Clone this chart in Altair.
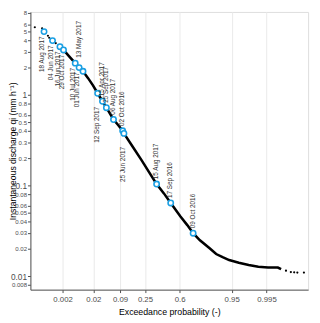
import altair as alt
import pandas as pd
from statistics import NormalDist

# ---- data ----
curve_p = [0.0016, 0.00217, 0.00351, 0.00555, 0.00744, 0.00986, 0.01388, 0.01925,
           0.02618, 0.0351, 0.0440, 0.0648, 0.0818, 0.1019, 0.1080, 0.1519, 0.2217,
           0.3061, 0.3582, 0.4332, 0.5056, 0.6082, 0.6762, 0.7302, 0.7868, 0.8542,
           0.8905, 0.9196, 0.9425, 0.9668, 0.9821, 0.99078, 0.99554, 0.99801, 0.99849]
curve_q = [3.40, 3.13, 2.64, 2.24, 2.00, 1.82, 1.54, 1.283,
           1.042, 0.851, 0.722, 0.535, 0.465, 0.4016, 0.3759, 0.2783, 0.1905,
           0.1288, 0.1039, 0.0819, 0.0642, 0.0456, 0.0366, 0.0298, 0.0249, 0.0203,
           0.01755, 0.01619, 0.01505, 0.01408, 0.01331, 0.01268, 0.01246, 0.01246, 0.01195]

tail_p = [0.000147, 0.000307, 0.000539, 0.000607, 0.001105,
          0.99902, 0.999374, 0.999543, 0.999663, 0.999826]
tail_q = [5.57, 5.43, 4.49, 4.27, 3.72,
          0.01149, 0.0111, 0.01103, 0.01095, 0.01095]

event_dates = ["18 Aug 2017", "04 Jun 2017", "16 Jun 2017", "29 Oct 2017",
               "10 Jul 2017", "01 Jun 2017", "13 May 2017", "12 Sep 2017",
               "15 Apr 2017", "25 Sep 2017", "06 Aug 2017", "02 Oct 2016",
               "25 Jun 2017", "15 Aug 2017", "17 Sep 2016", "09 Oct 2016"]
event_p = [0.000371, 0.000827, 0.0016, 0.00217, 0.00555, 0.00744, 0.00986, 0.02618,
           0.0351, 0.0440, 0.0648, 0.1019, 0.1080, 0.3582, 0.5056, 0.7302]
event_q = [4.99, 3.97, 3.40, 3.13, 2.24, 2.00, 1.82, 1.042,
           0.851, 0.722, 0.535, 0.4016, 0.3759, 0.1039, 0.0642, 0.0298]
event_side = ["below", "below", "below", "below", "below", "below", "above far", "below far",
              "above", "above", "above", "above", "below far", "above", "above", "above"]

x_tick_probs = [0.002, 0.02, 0.09, 0.25, 0.6, 0.95, 0.995]
y_tick_values = [0.008, 0.01, 0.02, 0.03, 0.04, 0.05, 0.06, 0.08, 0.1, 0.2, 0.3, 0.4,
                 0.5, 0.6, 0.8, 1, 2, 3, 4, 5, 6, 8]

nd = NormalDist()
x_tick_z = [nd.inv_cdf(p) for p in x_tick_probs]

curve = pd.DataFrame({"p": curve_p, "q": curve_q})
tails = pd.DataFrame({"p": tail_p, "q": tail_q})
events = pd.DataFrame({"date": event_dates, "p": event_p, "q": event_q, "side": event_side})

FONT = "Liberation Sans"
BLUE = "#1a9fe3"

x_enc = alt.X(
    "z:Q",
    scale=alt.Scale(domain=[-3.738, 3.688], nice=False, zero=False),
    axis=alt.Axis(
        values=x_tick_z,
        labelExpr="format(cumulativeNormal(datum.value), '~g')",
        grid=True, gridColor="#ebebeb", gridWidth=1.1,
        tickSize=3, tickColor="#4d4d4d", domainColor="#555555",
        labelFontSize=8, labelColor="#4d4d4d", labelBaseline="middle", labelPadding=7,
        labelFont=FONT, titleFont=FONT, titleFontSize=9, titleFontWeight="normal",
        titleColor="#000000", titleBaseline="middle", titleY=22, titleX=142.5,
        titleAlign="center",
    ),
    title="Exceedance probability (-)",
)

y_enc = alt.Y(
    "q:Q",
    scale=alt.Scale(type="log", domain=[0.0071, 8.22], nice=False),
    axis=alt.Axis(
        values=y_tick_values, format="~g", grid=False,
        tickSize=3, tickColor="#4d4d4d", domainColor="#555555",
        labelFontSize={"condition": {"test": "datum.value == 0.01 || datum.value == 0.1 || datum.value == 1",
                                     "value": 8.5}, "value": 6.2},
        labelColor="#4d4d4d", labelPadding=1, labelFont=FONT,
        titleFont=FONT, titleFontSize=8.8, titleFontWeight="normal", titleColor="#000000",
        titleAngle=270, titleAlign="center", titleBaseline="middle",
        titleX=-18.5, titleY=142.5,
    ),
    title="Instantaneous discharge qi (mm h⁻¹)",
)

calc = dict(z="quantileNormal(datum.p)")

line = alt.Chart(curve).transform_calculate(**calc).mark_line(
    color="black", strokeWidth=2.6
).encode(x=x_enc, y=y_enc, order="z:Q")

dots = alt.Chart(tails).transform_calculate(**calc).mark_circle(
    color="black", size=5, opacity=1
).encode(x=x_enc, y=y_enc)

circles = alt.Chart(events).transform_calculate(**calc).mark_point(
    shape="circle", size=30, strokeWidth=1.6, color=BLUE, fill="white", filled=False, opacity=1,
    fillOpacity=1
).encode(x=x_enc, y=y_enc)

def labels(side, align, xo, yo):
    return alt.Chart(events).transform_calculate(**calc).transform_filter(
        alt.datum.side == side
    ).mark_text(
        angle=270, align=align, baseline="middle", fontSize=6.5, font=FONT,
        color="#333333", xOffset=xo, yOffset=yo
    ).encode(x=x_enc, y=y_enc, text="date:N")

chart = alt.layer(
    line, dots, circles,
    labels("below", "right", -2, 5),
    labels("below far", "right", -1, 14),
    labels("above", "left", -0.5, -5),
    labels("above far", "left", -4, -14),
).properties(
    width=285, height=285,
    autosize=alt.AutoSizeParams(type="none"),
    padding={"left": 23, "right": 4, "top": 0, "bottom": 24},
).configure_view(
    stroke="#999999", strokeWidth=1
).configure(font=FONT)

chart.save("out.html", embed_options={"renderer": "svg", "actions": False})
